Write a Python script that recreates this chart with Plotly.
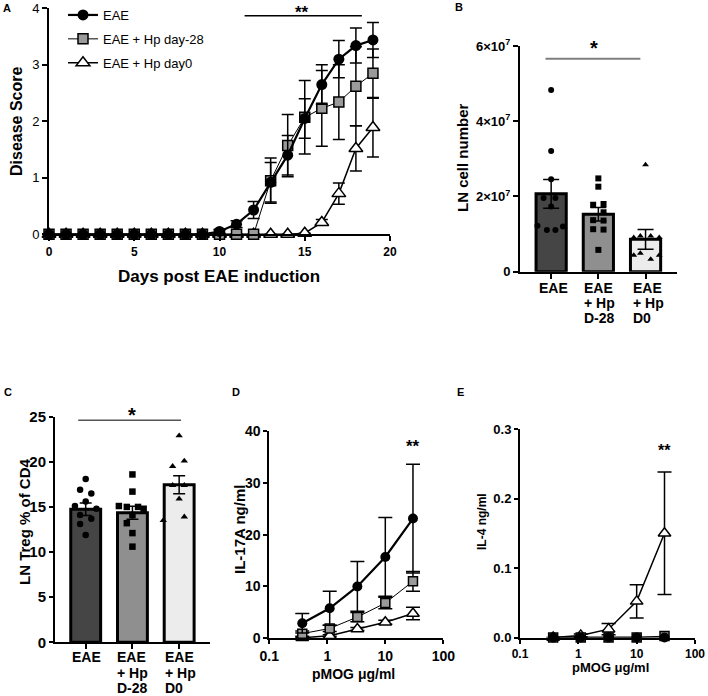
import math
import plotly.graph_objects as go

W, H = 708, 696
FONT = "Liberation Sans, Arial, sans-serif"


def px(x):
    return x / W


def py(y):
    return 1 - y / H


# ---------------- Panel A data ----------------
days = list(range(20))
eae_score = [0] * 10 + [0.05, 0.18, 0.43, 0.92, 1.40, 2.05, 2.65, 3.10, 3.34, 3.44]
eae_sem = [0] * 10 + [0.03, 0.06, 0.15, 0.35, 0.35, 0.35, 0.35, 0.33, 0.31, 0.31]
hp28_score = [0] * 13 + [0.95, 1.57, 2.07, 2.23, 2.34, 2.62, 2.85]
hp28_sem = [0] * 13 + [0.40, 0.55, 0.65, 0.67, 0.66, 0.70, 0.43]
hp0_score = [0] * 15 + [0.02, 0.21, 0.72, 1.52, 1.89]
hp0_sem = [0] * 16 + [0.05, 0.19, 0.40, 0.52]

# ---------------- Panel B data ----------------
groups = ["EAE", "EAE\n+ Hp\nD-28", "EAE\n+ Hp\nD0"]
ln_mean = [2.07e7, 1.53e7, 0.86e7]
ln_sem = [0.38e7, 0.18e7, 0.26e7]
ln_eae = [4.83e7, 3.21e7, 2.46e7, 1.96e7, 1.96e7, 1.73e7, 1.22e7, 1.20e7, 1.11e7, 1.11e7]
ln_hp28 = [2.48e7, 2.26e7, 1.80e7, 1.78e7, 1.58e7, 1.37e7, 1.36e7, 1.13e7, 1.12e7, 0.58e7]
ln_hp0 = [2.84e7, 0.95e7, 0.95e7, 0.91e7, 0.91e7, 0.49e7, 0.44e7, 0.44e7, 0.33e7]
ln_eae_jit = [0, 0, 0, -0.16, 0.09, 0, -0.29, 0.25, 0.09, -0.09]
ln_hp28_jit = [0, 0, 0.11, -0.11, 0.11, -0.11, 0.11, -0.11, 0.11, 0]
ln_hp0_jit = [0, -0.11, 0.11, -0.25, 0.29, -0.11, -0.25, 0.29, 0.11]

# ---------------- Panel C data ----------------
treg_mean = [14.75, 14.35, 17.45]
treg_sem = [0.70, 0.72, 1.00]
treg_eae = [18.1, 16.9, 16.5, 15.6, 15.1, 14.8, 14.1, 13.7, 13.1, 11.9]
treg_hp28 = [18.6, 16.7, 15.1, 15.0, 15.0, 14.8, 14.1, 13.2, 12.1, 10.6]
treg_hp0 = [22.9, 20.1, 19.5, 17.4, 17.4, 15.9, 13.5, 13.9]
treg_eae_jit = [0, -0.12, 0.12, 0, -0.23, 0.23, -0.12, 0.12, -0.12, 0]
treg_hp28_jit = [0, 0, -0.29, -0.12, 0.12, 0.24, 0, -0.12, 0, 0]
treg_hp0_jit = [0, 0.11, -0.14, -0.14, 0.11, 0, -0.34, 0.11]

# ---------------- Panel D / E data ----------------
pmog = [0.37, 1.1, 3.3, 10, 30]
il17_eae = [2.9, 5.8, 10.0, 15.7, 23.1]
il17_eae_sem = [1.9, 3.3, 4.8, 7.6, 10.5]
il17_hp28 = [0.9, 1.9, 4.1, 6.8, 11.0]
il17_hp28_sem = [0.5, 0.6, 0.9, 1.1, 1.9]
il17_hp0 = [0.1, 0.5, 1.8, 3.1, 4.8]
il17_hp0_sem = [0.1, 0.2, 0.3, 0.4, 1.2]
il4_eae = [0.0, 0.0, 0.0, 0.0, 0.0]
il4_hp28 = [0.0, 0.0, 0.0, 0.0, 0.002]
il4_hp0 = [0.0, 0.003, 0.012, 0.052, 0.150]
il4_hp0_sem = [0.0, 0.002, 0.008, 0.024, 0.088]

legend_names = ["EAE", "EAE + Hp day-28", "EAE + Hp day0"]

BAR_COLORS = ["#454545", "#8f8f8f", "#ececec"]
SQ_GRAY = "#9a9a9a"

fig = go.Figure()


def err(arr, w=6):
    return dict(type="data", array=arr, color="black", thickness=1.5, width=w, visible=True)


def series(x, ys, sems, xa, ya, legend, sizes, wcap):
    # draw order: day0 (bottom), day-28, EAE (top)
    specs = [
        (2, dict(symbol="triangle-up", size=sizes[2], color="white", line=dict(color="black", width=1.5)),
         dict(color="black", width=1.5)),
        (1, dict(symbol="square", size=sizes[1], color=SQ_GRAY, line=dict(color="black", width=1.5)),
         dict(color="black", width=1)),
        (0, dict(symbol="circle", size=sizes[0], color="black", line=dict(color="black", width=0)),
         dict(color="black", width=2.2)),
    ]
    for idx, mk, ln in specs:
        fig.add_trace(go.Scatter(
            x=x, y=ys[idx], mode="lines+markers", name=legend_names[idx],
            marker=mk, line=ln,
            error_y=err(sems[idx], wcap) if sems[idx] is not None else None,
            xaxis=xa, yaxis=ya, cliponaxis=False,
            showlegend=legend, legendrank=idx + 1, legendgroup="g%d" % idx,
        ))


# Panel A
series(days, [eae_score, hp28_score, hp0_score], [eae_sem, hp28_sem, hp0_sem],
       "x", "y", True, [11, 10, 12], 6)
# Panel D
series(pmog, [il17_eae, il17_hp28, il17_hp0], [il17_eae_sem, il17_hp28_sem, il17_hp0_sem],
       "x4", "y4", False, [10, 9, 11], 7)
# Panel E
series(pmog, [il4_eae, il4_hp28, il4_hp0], [None, None, il4_hp0_sem],
       "x5", "y5", False, [10, 9, 11], 7)


def bar_panel(means, sems, pts, jits, xa, ya, dot_size, capw):
    fig.add_trace(go.Bar(
        x=[0, 1, 2], y=means, width=0.64,
        marker=dict(color=BAR_COLORS, line=dict(color="black", width=3)),
        error_y=err(sems, capw), xaxis=xa, yaxis=ya, showlegend=False,
    ))
    symbols = ["circle", "square", "triangle-up"]
    for i, (vals, jit) in enumerate(zip(pts, jits)):
        fig.add_trace(go.Scatter(
            x=[i + j for j in jit], y=vals, mode="markers",
            marker=dict(symbol=symbols[i], size=dot_size, color="black"),
            xaxis=xa, yaxis=ya, showlegend=False, cliponaxis=False,
        ))


bar_panel(ln_mean, ln_sem, [ln_eae, ln_hp28, ln_hp0],
          [ln_eae_jit, ln_hp28_jit, ln_hp0_jit], "x2", "y2", 6, 8)
bar_panel(treg_mean, treg_sem, [treg_eae, treg_hp28, treg_hp0],
          [treg_eae_jit, treg_hp28_jit, treg_hp0_jit], "x3", "y3", 6.5, 6)

AX = dict(showline=True, linecolor="black", linewidth=2, ticks="outside", ticklen=5,
          tickwidth=2, tickcolor="black", showgrid=False, zeroline=False, automargin=False,
          tickfont=dict(family=FONT, size=13, color="black", weight="bold"))


def ax(**kw):
    d = dict(AX)
    d.update(kw)
    return d


fig.update_layout(
    template="none",
    width=W, height=H, margin=dict(l=0, r=0, t=0, b=0, pad=0, autoexpand=False),
    paper_bgcolor="white", plot_bgcolor="white",
    font=dict(family=FONT, color="black"),
    showlegend=True,
    legend=dict(x=px(63), y=py(0), xanchor="left", yanchor="top",
                bgcolor="rgba(0,0,0,0)", font=dict(family=FONT, size=13, color="black"),
                tracegroupgap=4, itemwidth=30),
    xaxis=ax(domain=[px(49), px(390)], range=[0, 20], tickvals=[0, 5, 10, 15, 20], anchor="y",
             tickfont=dict(family=FONT, size=12, color="black", weight="bold")),
    yaxis=ax(domain=[py(234.3), py(8.3)], range=[0, 4], tickvals=[0, 1, 2, 3, 4], anchor="x",
             tickfont=dict(family=FONT, size=13, color="black")),
    xaxis2=ax(domain=[px(520), px(676.7)], range=[-0.66, 2.66], tickvals=[0, 1, 2],
              showticklabels=False, anchor="y2"),
    yaxis2=ax(domain=[py(271.7), py(46)], range=[0, 6e7], tickvals=[0, 2e7, 4e7, 6e7],
              ticktext=["0", "2×10<sup>7</sup>", "4×10<sup>7</sup>", "6×10<sup>7</sup>"], anchor="x2"),
    xaxis3=ax(domain=[px(55), px(210)], range=[-0.657, 2.66], tickvals=[0, 1, 2],
              showticklabels=False, anchor="y3"),
    yaxis3=ax(domain=[py(642.3), py(416.7)], range=[0, 25], tickvals=[0, 5, 10, 15, 20, 25], anchor="x3",
              ticklen=4, tickfont=dict(family=FONT, size=15, color="black", weight="bold")),
    xaxis4=ax(domain=[px(269.3), px(443.3)], type="log", range=[-1, 2], tickvals=[0.1, 1, 10, 100],
              ticktext=["0.1", "1", "10", "100"], anchor="y4", ticklen=4,
              tickfont=dict(family=FONT, size=14, color="black", weight="bold")),
    yaxis4=ax(domain=[py(638.3), py(431)], range=[0, 40], tickvals=[0, 10, 20, 30, 40], anchor="x4",
              ticklen=4, tickfont=dict(family=FONT, size=14, color="black", weight="bold")),
    xaxis5=ax(domain=[px(520), px(695)], type="log", range=[-1, 2], tickvals=[0.1, 1, 10, 100],
              ticktext=["0.1", "1", "10", "100"], anchor="y5", ticklen=4,
              tickfont=dict(family=FONT, size=12, color="black", weight="bold")),
    yaxis5=ax(domain=[py(637.5), py(429)], range=[0, 0.3], tickvals=[0, 0.1, 0.2, 0.3],
              ticktext=["0.0", "0.1", "0.2", "0.3"], anchor="x5", ticklen=4),
)

ann = []


def text(x, y, t, size, bold=True, angle=0, xanchor="center", yanchor="middle", xref="paper", yref="paper"):
    ann.append(dict(x=x, y=y, xref=xref, yref=yref, text=t, showarrow=False, textangle=angle,
                    xanchor=xanchor, yanchor=yanchor,
                    font=dict(family=FONT, size=size, color="black", weight="bold" if bold else "normal")))


# panel letters
for lab, x0, y0 in [("A", 7, 8), ("B", 459, 7), ("C", 8, 392), ("D", 236, 392), ("E", 460, 392)]:
    text(px(x0), py(y0), lab, 11)

# axis titles
text(px(17), py(121), "Disease Score", 16, angle=-90)
text(px(219), py(276), "Days post EAE induction", 17)
text(px(462), py(158), "LN cell number", 15, angle=-90)
text(px(24), py(522), "LN Treg % of CD4", 15, angle=-90)
text(px(239), py(530), "IL-17A ng/ml", 15, angle=-90)
text(px(353), py(674), "pMOG μg/ml", 14)
text(px(482), py(522), "IL-4 ng/ml", 12, angle=-90)
text(px(610), py(667), "pMOG μg/ml", 13)

# category labels under bars (left-aligned lines)
b_left = [-0.29, -0.35, -0.31]
c_left = [-0.335, -0.37, -0.336]
for i, g in enumerate(groups):
    for j, line in enumerate(g.split("\n")):
        text(i + b_left[i], py(288 + 15 * j), line, 14, xanchor="left", xref="x2")
        text(i + c_left[i], py(657 + 15.5 * j), line, 14, xanchor="left", xref="x3")

# significance markers
text(14.84, py(13), "**", 17, xref="x")
text(0.9, py(48), "*", 20, xref="x2")
text(0.99, py(415), "*", 20, xref="x3")
text(math.log10(30), py(446), "**", 17, xref="x4")
text(math.log10(30), py(450), "**", 16, xref="x5")

fig.update_layout(annotations=ann, shapes=[
    dict(type="line", xref="x", yref="y", x0=11.47, x1=18.35, y0=3.87, y1=3.87,
         line=dict(color="black", width=1.5)),
    dict(type="line", xref="x2", yref="y2", x0=-0.12, x1=1.89, y0=5.66e7, y1=5.66e7,
         line=dict(color="#7f7f7f", width=2)),
    dict(type="line", xref="x3", yref="y3", x0=-0.16, x1=2.04, y0=24.6, y1=24.6,
         line=dict(color="#555555", width=1.5)),
])

fig.write_html("out.html", config={"displayModeBar": False},
               post_script="document.body.style.margin='0px';")
